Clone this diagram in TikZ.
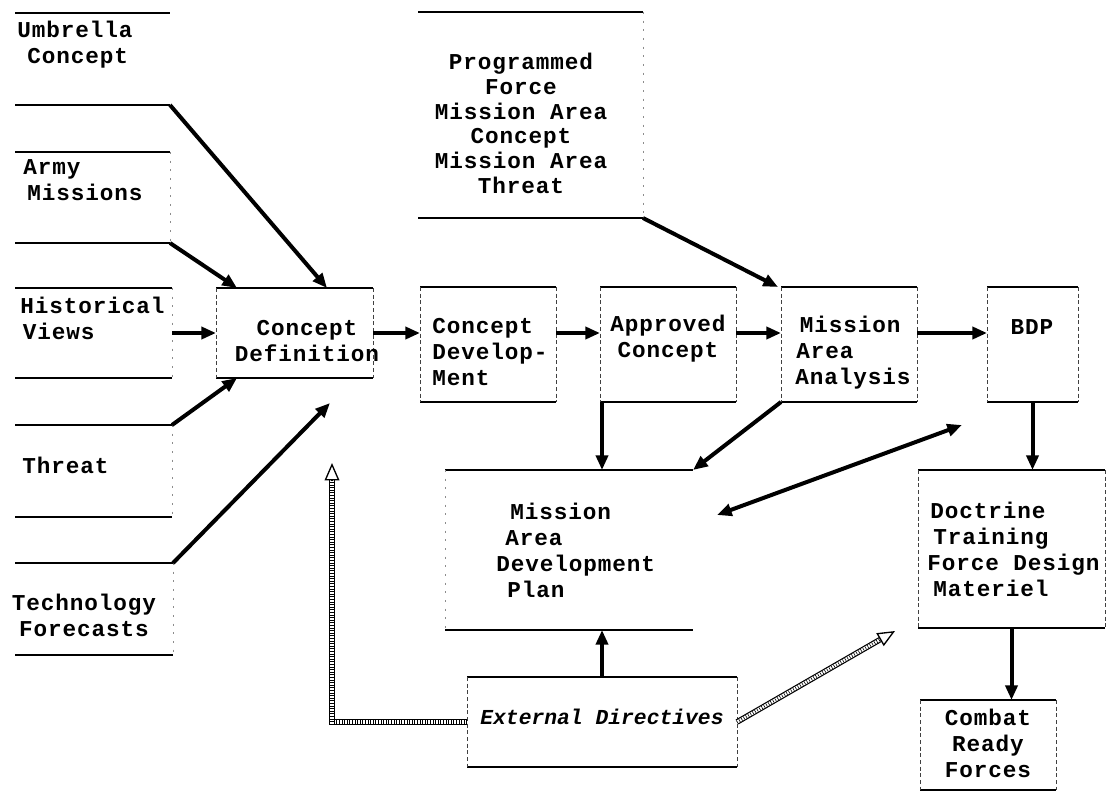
\documentclass[tikz,border=0pt]{standalone}
\usepackage{fontspec}
\newfontfamily\labelfont[LetterSpace=4]{Liberation Mono}
\newfontfamily\directivefont{Liberation Mono}
\usetikzlibrary{arrows.meta,calc,fit}

\begin{document}
\begin{tikzpicture}[x=0.75pt,y=-0.75pt,
  frame/.style={inner sep=0pt, outer sep=0pt},
  rule/.style={line width=1.4pt},
  sideedge/.style={line width=0.6pt, dash pattern=on 3pt off 2pt, black!75},
  faintedge/.style={line width=0.5pt, dash pattern=on 1.5pt off 5pt, black!45},
  txt/.style={font=\labelfont\bfseries\fontsize{17}{19.5}\selectfont, inner sep=0pt},
  tip/.tip={Triangle[length=11pt,width=9pt]},
  arr/.style={line width=3pt, -tip},
  hollow/.style={draw=black, line width=0.9pt, double=white, double distance=2.4pt},
  rungs/.style={draw=black, line width=2.4pt, dash pattern=on 0.45pt off 1.5pt},
  hollowhead/.style={line width=1pt, -{Triangle[open,length=13pt,width=11pt]}},
]
\useasboundingbox (0,0) rectangle (1109,792);

% ---- input boxes on the left ----
\node[frame, fit={(15,13) (170,105)}]  (umb)  {};
\node[frame, fit={(15,152) (170,243)}] (army) {};
\node[frame, fit={(15,288) (172,378)}] (hist) {};
\node[frame, fit={(15,425) (172,517)}] (thr)  {};
\node[frame, fit={(15,563) (173,655)}] (tech) {};

% ---- main chain ----
\node[frame, fit={(216,288) (373,378)}] (cdef) {};
\node[frame, fit={(420,287) (556,402)}] (cdev) {};
\node[frame, fit={(600,287) (736,402)}] (ac)   {};
\node[frame, fit={(781,287) (917,402)}] (maa)  {};
\node[frame, fit={(987,287) (1078,402)}] (bdp) {};

% ---- other boxes ----
\node[frame, fit={(418,12) (643,218)}]   (prog) {};
\node[frame, fit={(445,470) (693,630)}]  (madp) {};
\node[frame, fit={(918,470) (1105,628)}] (doc)  {};
\node[frame, fit={(920,700) (1056,790)}] (crf)  {};
\node[frame, fit={(467,677) (737,767)}]  (ed)   {};

% top and bottom rules of every box
\foreach \n in {umb,army,hist,thr,tech,cdef,cdev,ac,maa,bdp,prog,madp,doc,crf,ed} {
  \draw[rule] (\n.north west) -- (\n.north east);
  \draw[rule] (\n.south west) -- (\n.south east);
}
% dashed side edges
\foreach \n in {cdef,cdev,ac,maa,bdp,doc,crf,ed} {
  \draw[sideedge] (\n.north west) -- (\n.south west);
  \draw[sideedge] (\n.north east) -- (\n.south east);
}
\foreach \n in {army,hist,thr,tech} {
  \draw[faintedge] (\n.north east) -- (\n.south east);
}
\draw[faintedge] (prog.north east) -- (prog.south east);
\draw[faintedge] (madp.north west) -- (madp.south west);

% ---- texts ----
\node[txt, anchor=west, align=left] (umb-t)  at (17,44.5)  {Umbrella\\\hspace*{7.5pt}Concept};
\node[txt, anchor=west, align=left] (army-t) at (23,180)   {Army\\\hspace*{3pt}Missions};
\node[txt, anchor=west, align=left] (hist-t) at (20,318.5) {Historical\\\hspace*{2pt}Views};
\node[txt, anchor=west]             (thr-t)  at (22,465)   {Threat};
\node[txt, align=center]            (tech-t) at (84,615.5) {Technology\\Forecasts};

\node[txt, align=center, font=\labelfont\bfseries\fontsize{17}{18.5}\selectfont]
  (prog-t) at (521,123.5)
  {Programmed\\Force\\Mission Area\\Concept\\Mission Area\\Threat};

\node[txt, align=center]            (cdef-t) at (307,341)   {Concept\\Definition};
\node[txt, anchor=west, align=left] (cdev-t) at (432,352.5) {Concept\\Develop-\\Ment};
\node[txt, align=center]            (ac-t)   at (668,338.5) {Approved\\Concept};
\node[txt, anchor=west, align=left] (maa-t)  at (795,352.5) {\hspace*{3.5pt}Mission\\\hspace*{0.75pt}Area\\Analysis};
\node[txt]                          (bdp-t)  at (1032,327)  {BDP};

\node[txt, anchor=west, align=left] (madp-t) at (496,550)
  {\hspace*{10.5pt}Mission\\\hspace*{6.75pt}Area\\Development\\\hspace*{8.25pt}Plan};
\node[txt, anchor=west, align=left] (doc-t)  at (927,549)
  {\hspace*{2.25pt}Doctrine\\\hspace*{4.5pt}Training\\Force Design\\\hspace*{4.5pt}Materiel};
\node[txt, align=center]            (crf-t)  at (988,743)   {Combat\\Ready\\Forces};
\node[txt, font=\directivefont\bfseries\itshape\fontsize{16}{19}\selectfont]
  (ed-t) at (602,717) {External Directives};

% ---- connectors ----
\coordinate (row) at (0,333);
\draw[arr] (umb.south east)  -- ($(cdef.north west)!0.707!(cdef.north east)$);
\draw[arr] (army.south east) -- ($(cdef.north west)!0.134!(cdef.north east)$);
\draw[arr] (hist.east |- row) -- (cdef.west |- row);
\draw[arr] (thr.north east)  -- ($(cdef.south west)!0.134!(cdef.south east)$);
\draw[arr] (tech.north east) -- ($(cdef.south west)!0.726!(cdef.south east)+(0,25)$);

\draw[arr] (cdef.east |- row) -- (cdev.west |- row);
\draw[arr] (cdev.east |- row) -- (ac.west |- row);
\draw[arr] (ac.east |- row)   -- (maa.west |- row);
\draw[arr] (maa.east |- row)  -- (bdp.west |- row);

\draw[arr] (prog.south east) -- ($(maa.north west)+(-3,0)$);

\coordinate (acdrop) at ($(ac.south west)+(2,0)$);
\draw[arr] (acdrop) -- (acdrop |- madp.north);
\draw[arr] (maa.south west) -- (madp.north east);
\draw[line width=3pt, tip-tip] ($(madp.east)+(24,-35)$) -- ($(bdp.south west)+(-25,23)$);
\draw[arr] (bdp.south) -- (bdp.south |- doc.north);
\draw[arr] (doc.south) -- (doc.south |- crf.north);
\draw[arr] (ed.north)  -- (ed.north |- madp.south);

% external directives feed back as hollow ladder arrows
\coordinate (fbtip) at ($(cdef.south east)+(-41,85)$);
\coordinate (fwtip) at ($(doc.south west)+(-23,3)$);
\coordinate (fbback) at ($(fbtip)+(0,17)$);
\coordinate (fwback) at ($(fwtip)!13pt!(ed.east)$);
\draw[hollow] (ed.west) -| (fbback);
\draw[rungs]  (ed.west) -| (fbback);
\draw[hollowhead] ($(fbtip)+(0,17.3)$) -- (fbtip);
\draw[hollow] (ed.east) -- (fwback);
\draw[rungs]  (ed.east) -- (fwback);
\draw[hollowhead] (fwback) -- (fwtip);

\end{tikzpicture}
\end{document}
